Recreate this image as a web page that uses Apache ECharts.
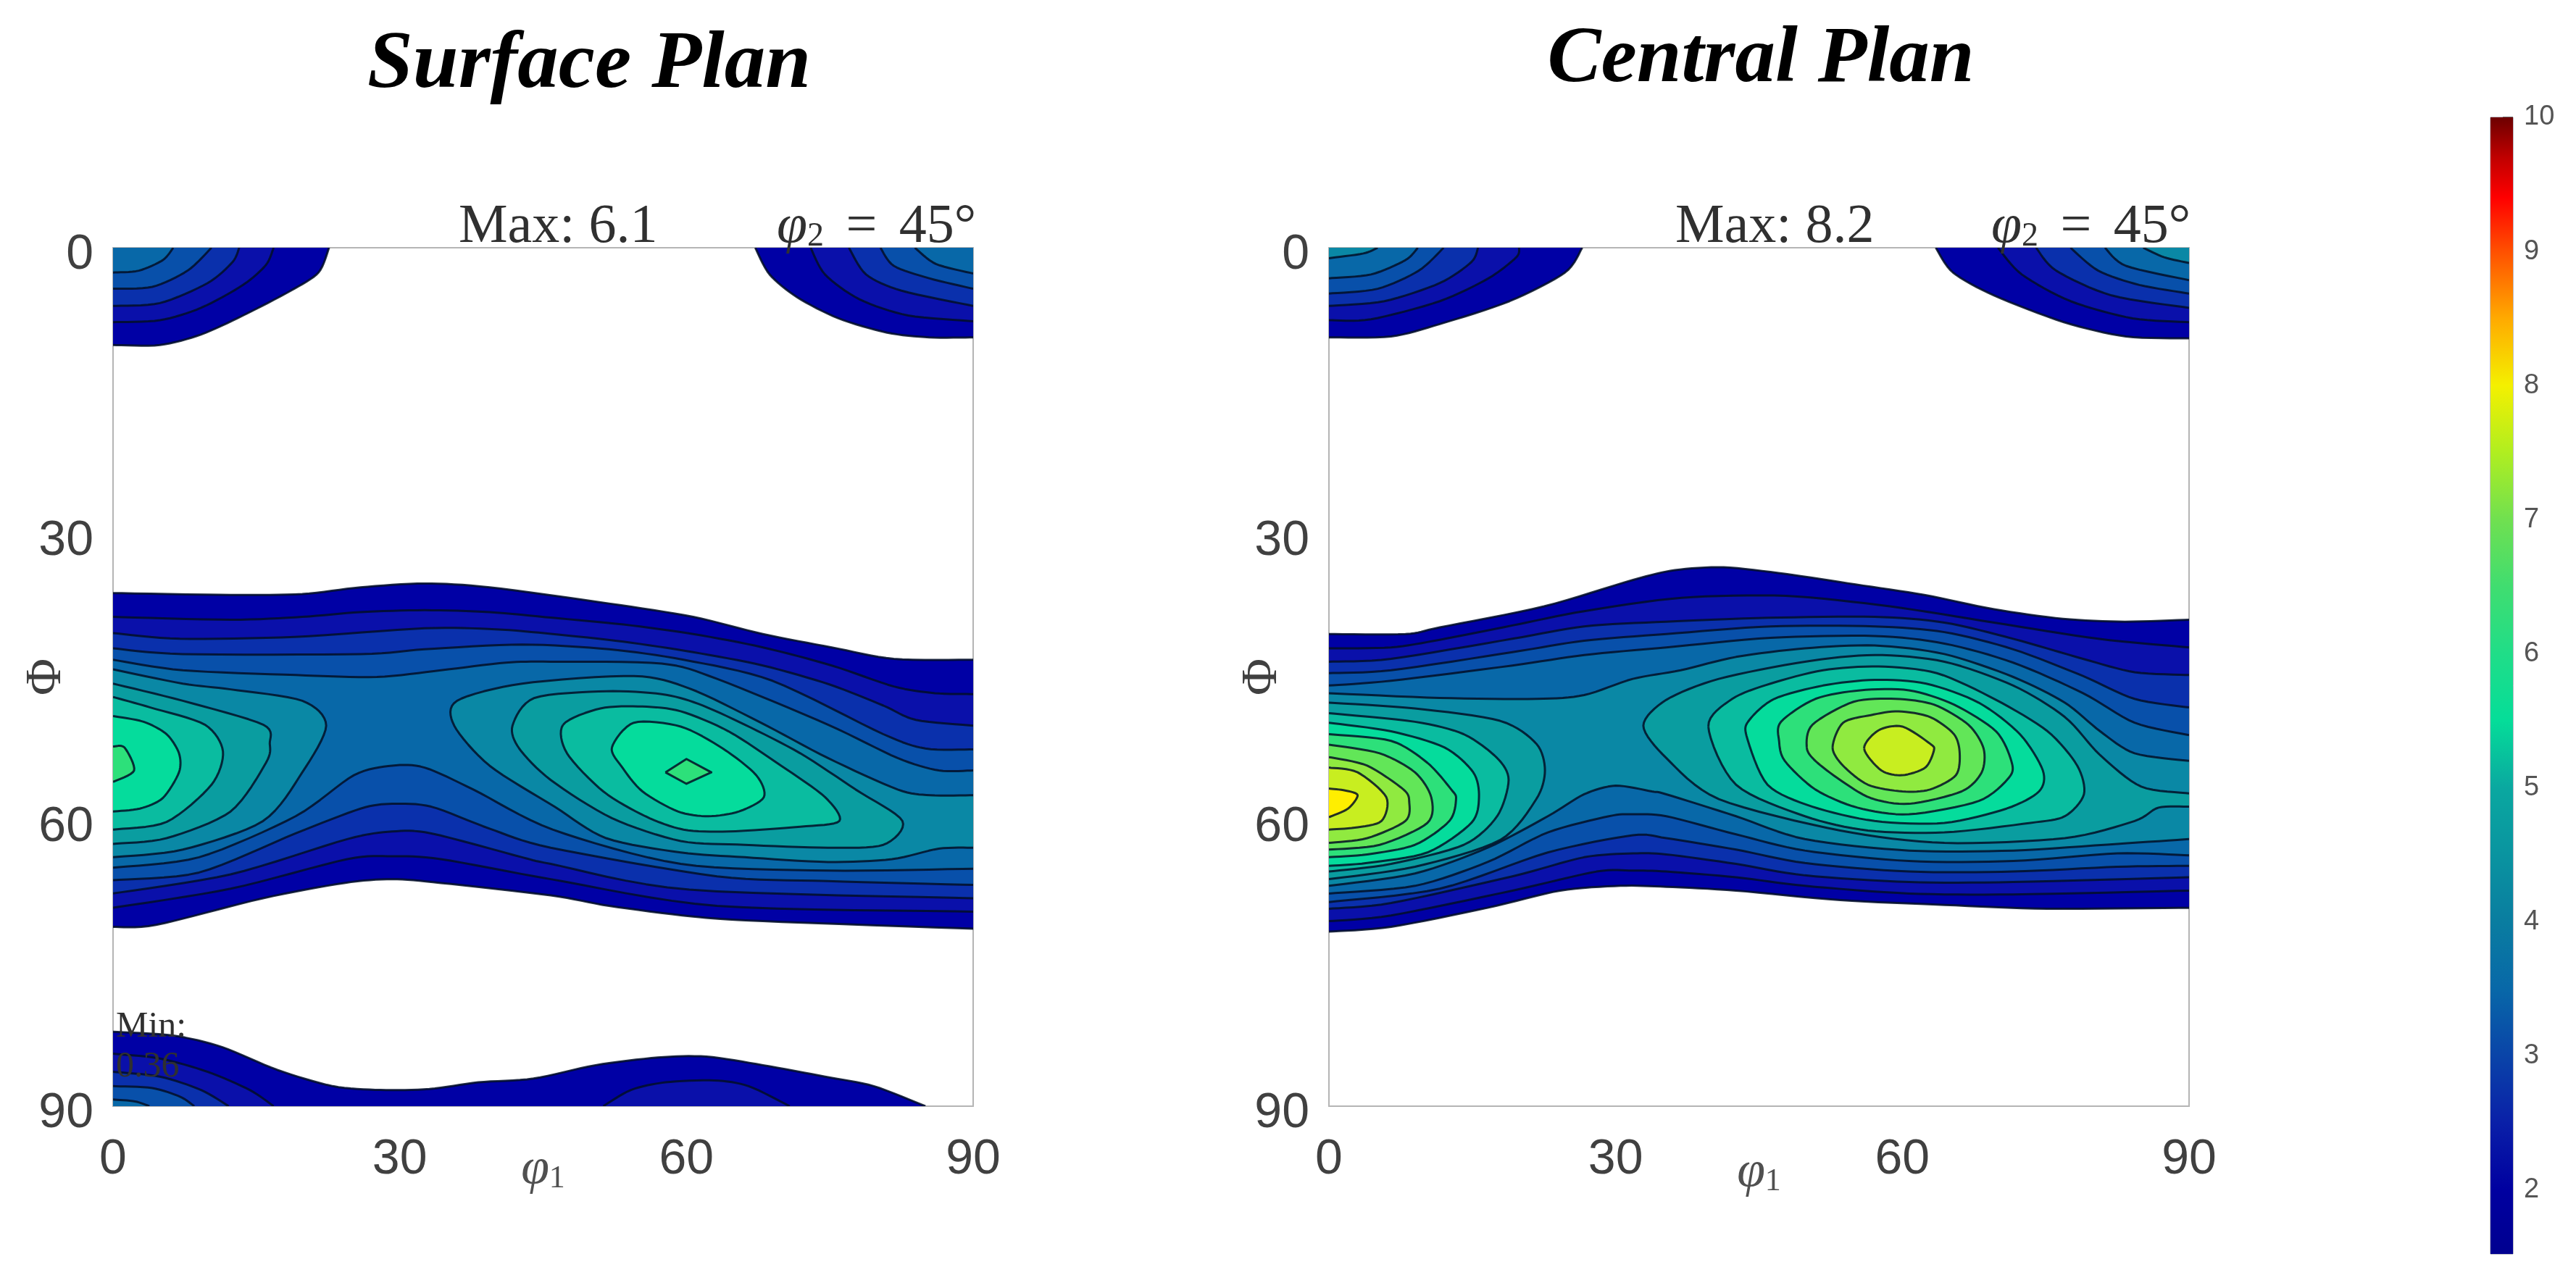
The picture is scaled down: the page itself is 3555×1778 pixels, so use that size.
<!DOCTYPE html>
<html><head><meta charset="utf-8">
<style>html,body{margin:0;padding:0;background:#fff}#c{width:3555px;height:1778px}</style>
<script src="https://cdn.jsdelivr.net/npm/echarts@6/dist/echarts.min.js"></script>
</head><body><div id="c"></div>
<script>
// Contour levels and the fill used above each level
const levels = [1.5,2,2.5,3,3.5,4,4.5,5,5.5,6,6.5,7,7.5,8];
const levelColors = ['#0000a5','#0a10aa','#0a30ac','#0850aa','#0868a8','#0a88a5','#0a9da0','#0abca0','#05dc9c','#2de07a','#62e658','#90ea40','#c8ee20','#ffee00'];
const axisTicks = [0,30,60,90];
const colorbarTicks = [2,3,4,5,6,7,8,9,10];
const colorbarValues = [1.52,2,2.5,3,3.5,4,4.5,5,5.5,6,6.5,7,7.5,8,8.5,9,9.4,9.7,10];
const colorbarColors = ['#000090','#0000a0','#0a20a8','#0a44a8','#0868a8','#0a7da0','#0a94a0','#0aa8a0','#05dd99','#20dd88','#40dd70','#70e050','#b0ee20','#f4f000','#ffaa00','#ff5000','#ff0000','#c00000','#6d0000'];

// SURFACE PLAN: contours as [phi1, Phi]
const surfaceBelts = [
 {level:1.5,chains:[
  [[0,36.2],[12.3,36.4],[19.8,36.3],[25.9,35.6],[32.6,35.2],[39.4,35.6],[51.9,37.3],[60.7,38.7],[68,40.5],[75.2,41.9],[81.7,43.1],[90,43.2]],
  [[90,71.4],[68,70.6],[60.5,70.1],[51.9,69],[45.8,67.9],[34.3,66.6],[29.2,66.2],[24.2,66.6],[15.7,68.2],[4.5,71],[0,71.2]]]},
 {level:2,chains:[
  [[0,38.7],[12.3,39],[19.8,38.7],[25.9,38.2],[32.6,38],[39.4,38.2],[46,38.8],[53.4,39.5],[60.7,40.5],[68,41.9],[75.2,43.8],[81.7,46],[86,46.7],[90,46.8]],
  [[90,69.6],[63.2,69],[45.8,66.2],[34.3,64.1],[29.2,63.8],[24.5,64.1],[12.3,67.2],[0,69.2]]]},
 {level:2.5,chains:[
  [[0,40.4],[7,41],[19,40.8],[32.6,39.9],[40,40],[46,40.5],[53.4,41.3],[60.7,42.4],[68,43.8],[75,45.8],[80.6,48],[84,49.5],[90,50.1]],
  [[90,68.2],[60.3,67.3],[45.8,64.6],[42.8,63.9],[33.3,61.4],[29.2,61.2],[24.5,62],[12.3,65.7],[0,67.7]]]},
 {level:3,chains:[
  [[0,42],[7.3,42.6],[25.9,42.6],[32.6,42.1],[42.8,41.6],[51.9,42.1],[59.7,43.2],[69,45.4],[80.6,51],[85,52.5],[90,52.6]],
  [[90,66.8],[74.8,66.4],[63.2,65.9],[45.8,62.9],[39.4,60.9],[33.3,58.6],[29.2,58.3],[25.9,58.8],[19.1,61.4],[9,65.5],[0,66.3]]]},
 {level:3.5,chains:[
  [[0,43.2],[7.3,44.3],[19.1,44.8],[27.6,45],[34.3,44.3],[41.1,43.5],[45.8,43.4],[57.4,43.6],[63.2,45.2],[74.8,50],[82.1,53.5],[86.4,54.8],[90,54.8]],
  [[90,65.1],[74.8,65.3],[59.4,64.6],[46,61],[37.7,56.8],[32.6,54.5],[29.2,54.3],[25.2,55.3],[19.1,59.6],[9,63.9],[0,65]]]}
];
const surfaceLeftLobes = [
 {level:4,chains:[[[0,44.2],[7.3,45.7],[12.3,46.3],[19.8,47.5],[22.3,50.1],[19.8,55],[15.7,60.1],[7.3,63.1],[0,63.9]]]},
 {level:4.5,chains:[[[0,45.7],[7.3,47.5],[15.7,50],[16.4,52],[16,54],[12.3,59.1],[5.6,61.9],[0,62.5]]]},
 {level:5,chains:[[[0,47.1],[3.9,48.2],[9.6,50],[11.5,52.8],[10.3,56.3],[5.6,60.2],[0,61]]]},
 {level:5.5,chains:[[[0,49.1],[3.2,49.7],[5.6,51],[6.9,53],[6.9,55],[5.2,57.7],[2.8,58.8],[0,59.1]]]},
 {level:6,chains:[[[0,52.3],[1.2,52.4],[2.2,54.8],[0,56]]]}
];
const surfaceRightLobes = [
 {level:4,chains:[[[90,62.9],[86.4,63],[81.5,64.1],[74.8,64.4],[66.1,63.9],[59.4,63.4],[51.6,61.9],[46.2,58.6],[39.4,54.3],[35.7,50.1],[36,47.5],[42.8,45.7],[54.5,44.9],[60.3,46.2],[67.6,49.7],[74.8,53.5],[82.1,56.8],[85.5,57.4],[90,57.4]]]},
 {level:4.5,closed:true,chains:[[[41.8,50.1],[44.1,47.2],[51.6,46.5],[57.4,46.8],[61.2,47.8],[66.1,50],[71.9,53],[77.7,56.8],[82.6,60.1],[80.6,62.6],[74.8,62.9],[66.1,62.6],[59.4,62.2],[52.2,59.8],[45.8,55.8],[42.5,52.5]]]},
 {level:5,closed:true,chains:[[[47.1,50],[51,48.3],[55.4,48.1],[59.4,48.6],[64.4,50.7],[69.9,54.3],[74.5,57.6],[76,60.1],[71.9,60.7],[64.4,61.2],[59.7,61],[55.7,59.6],[51.3,57],[47.5,53]]]},
 {level:5.5,closed:true,chains:[[[52.2,52.4],[54.5,49.8],[59.4,50.2],[63.8,52.5],[67.3,55.3],[68.1,57.6],[65.5,59.1],[62.3,59.6],[59.1,59.1],[55.4,57],[53.3,54.5]]]},
 {level:6,closed:true,sharp:true,chains:[[[57.8,55],[60,53.6],[62.6,55],[60,56.2]]]}
];
const surfaceTopLobes = [
 {level:1.5,chains:[[[0,10.2],[4.9,10.2],[9.2,9.1],[13.6,7.1],[18.6,4.5],[21.5,2.6],[22.6,0]],[[0,0]]]},
 {level:2,chains:[[[0,7.8],[4.9,7.6],[9.2,6.3],[13.6,3.9],[16,1.8],[16.8,0]],[[0,0]]]},
 {level:2.5,chains:[[[0,6.1],[4.9,5.8],[9.9,3.7],[12.5,1.5],[13.2,0]],[[0,0]]]},
 {level:3,chains:[[[0,4.3],[4.1,4.1],[7.8,2.4],[10.3,0]],[[0,0]]]},
 {level:3.5,chains:[[[0,2.6],[2.7,2.4],[5.2,1.3],[6.3,0]],[[0,0]]]},
 {level:1.5,chains:[[[67.2,0],[68.7,2.8],[71.6,5.2],[75.9,7.4],[81,8.9],[85.4,9.4],[90,9.4]],[[90,0]]]},
 {level:2,chains:[[[73,0],[74.5,2.8],[78.1,5.4],[83.2,7.1],[90,7.7]],[[90,0]]]},
 {level:2.5,chains:[[[77,0],[78.8,2.8],[82.5,4.5],[90,6.1]],[[90,0]]]},
 {level:3,chains:[[[80.3,0],[81.7,1.9],[85.4,3.2],[90,4.3]],[[90,0]]]},
 {level:3.5,chains:[[[83.9,0],[86.1,1.7],[90,2.7]],[[90,0]]]}
];
const surfaceBottomLobes = [
 {level:1.5,chains:[[[0,82.2],[6.3,82.6],[11.4,83.8],[17.2,86.2],[23,87.9],[28,88.3],[33.1,88.2],[38.2,87.5],[44,87.1],[50.5,85.7],[57,84.9],[62.1,84.8],[68,85.7],[74.5,86.9],[79.6,87.9],[85,90]],[[0,90]]]},
 {level:2,chains:[[[0,84.5],[4.9,85],[9.9,86.4],[14.3,88.3],[16.8,90]],[[0,90]]]},
 {level:2.5,chains:[[[0,86.4],[4.9,86.9],[9.2,88.3],[12.1,90]],[[0,90]]]},
 {level:3,chains:[[[0,87.9],[4.1,88.1],[7,89],[8.5,90]],[[0,90]]]},
 {level:3.5,chains:[[[0,89.3],[2.3,89.5],[3.8,90]],[[0,90]]]},
 {level:2,chains:[[[51.3,90],[54.2,88.3],[57.8,87.5],[62.9,87.3],[66.5,87.9],[70.8,90]]]}
];

// CENTRAL PLAN: contours as [phi1, Phi]
const centralBelts = [
 {level:1.5,chains:[
  [[0,40.5],[8,40.5],[11.6,39.8],[22.5,37.6],[31.9,34.8],[36.2,33.8],[41.3,33.5],[47.8,34.2],[55.1,35.3],[62.3,36.4],[69.6,37.9],[76.8,38.9],[83.3,39.2],[90,39]],
  [[90,69.2],[75.2,69.3],[64.4,68.9],[53.5,68.4],[42.6,67.4],[35.3,67],[30.5,66.9],[24.2,67.4],[16.6,69.2],[6.5,71.2],[0,71.7]]]},
 {level:2,chains:[
  [[0,42],[6.5,41.9],[11.6,41.1],[19.2,39.6],[26.7,38.1],[36.9,36.7],[47.8,36.5],[58.7,37.6],[69.6,39.3],[80.5,41],[90,41.9]],
  [[90,67.4],[71.6,67.8],[60.7,67.7],[49.8,66.9],[42.6,66],[35.3,65.4],[31.8,65.3],[28,65.4],[19.2,67.4],[6.5,70],[0,70.6]]]},
 {level:2.5,chains:[
  [[0,43.4],[6.5,43.1],[19.2,41],[26.7,39.7],[35.3,39.2],[46,38.8],[57.1,38.7],[64.4,39.3],[71.6,41],[78.9,43.1],[84.3,44.5],[90,44.8]],
  [[90,66],[71.6,66.5],[60.7,66.5],[49.8,65.8],[42.6,64.6],[35.3,63.6],[31.8,63.5],[26.7,63.9],[19.2,65.9],[6.5,68.7],[0,69.3]]]},
 {level:3,chains:[
  [[0,44.6],[6.5,44.3],[19.2,42.4],[26.7,41.2],[35.3,40.5],[46.2,39.7],[57.1,39.7],[64.4,40.3],[71.6,42.1],[78.9,44.9],[84.3,47.3],[90,48.2]],
  [[90,64.8],[82.5,64.9],[71.6,65.4],[60.7,65.4],[49.8,64.5],[42.6,63.1],[35.3,61.9],[31.8,61.6],[22.9,63.4],[11.6,67.2],[0,68.6]]]},
 {level:3.5,chains:[
  [[0,45.9],[6.5,45.4],[19.2,43.8],[26.7,42.7],[35.3,41.9],[46.2,40.9],[57.1,40.7],[64.4,41.5],[71.6,43.5],[78.9,46.7],[84.3,49.8],[90,51.1]],
  [[90,63.7],[82.5,63.5],[71.6,64.3],[60.7,64.3],[49.8,63.2],[42.6,61.5],[35.3,59.6],[31.8,59.4],[29.3,59.6],[22.9,61.3],[16.6,64.4],[9,66.9],[0,67.7]]]},
 {level:4,chains:[
  [[0,46.7],[11.6,47.2],[21.7,47.3],[26.7,46.9],[31.8,45.2],[36.8,44.3],[42.6,42.9],[49.8,42],[57.1,41.7],[64.4,42.6],[71.6,45],[77,47.7],[80.7,50.7],[84.3,53],[90,53.8]],
  [[90,62],[82.5,62.5],[71.6,63.2],[60.7,63.2],[49.8,62],[42.6,59.6],[35.3,57.3],[33.8,57],[30,56.4],[26.7,57.3],[22.9,59.6],[16.6,62.9],[9,65.6],[0,66.9]]]}
];
const centralLeftLobes = [
 {level:4.5,chains:[[[0,47.7],[9,48.3],[17.9,49.6],[21.7,52],[22.6,54.8],[21.7,57.8],[17.9,62.1],[9,64.9],[0,66.2]]]},
 {level:5,chains:[[[0,48.8],[9,49.7],[14.1,51],[17.6,53.5],[18.8,55.8],[17.6,59.6],[14.1,62.6],[6.5,64.6],[0,65.4]]]},
 {level:5.5,chains:[[[0,49.8],[6.5,50.7],[12.1,52.4],[15.1,55],[15.7,57.6],[14.9,60.3],[10.3,63.4],[4,64.5],[0,64.8]]]},
 {level:6,chains:[[[0,51],[6.5,51.7],[10.3,54],[12.8,56.8],[13.3,57.8],[12.6,60.1],[9,62.6],[4,63.6],[0,63.9]]]},
 {level:6.5,chains:[[[0,52.1],[5.3,53],[9,55],[10.7,57.6],[10.3,60.3],[5.3,62.6],[0,63.1]]]},
 {level:7,chains:[[[0,53.4],[4,54.3],[7.8,56.8],[8.4,58.1],[8,60.1],[4,61.9],[0,62.4]]]},
 {level:7.5,chains:[[[0,54.5],[3,55],[6,57.6],[5.5,60.1],[2.7,60.8],[0,61]]]},
 {level:8,chains:[[[0,56.7],[1.7,56.9],[3,57.4],[2,58.8],[0,59.7]]]}
];
const centralRightLobes = [
 {level:4.5,chains:[[[90,58.6],[86.8,58.7],[84.3,60.1],[77,61.9],[64.4,62.4],[53.5,61.1],[40.8,57.8],[35.3,53.5],[32.9,50.1],[35.3,47.4],[40.8,45.2],[49.8,43.4],[57.1,42.7],[64.4,43.4],[71.6,45.9],[77,49.2],[80.7,53.2],[85,56.5],[90,57.2]]]},
 {level:5,closed:true,chains:[[[39.7,50.2],[42.2,47.3],[46.2,45.7],[51.7,44.3],[57.5,43.9],[63.6,44.6],[69.8,47.4],[75.2,50.7],[78.3,54.3],[79,57.3],[77,59.6],[73.4,60.3],[64.4,61.3],[56.4,61.1],[49.8,59.6],[42.6,56.3]]]},
 {level:5.5,closed:true,chains:[[[43.7,51.2],[44,49.5],[46.6,47.3],[51.7,45.9],[57.1,45.3],[62.5,45.7],[68,47.7],[72.3,51],[74.7,54.8],[74.3,57],[70.9,58.8],[64.4,60.3],[57.1,60.1],[50.6,58.6],[45.9,56.3]]]},
 {level:6,closed:true,chains:[[[47.1,51.7],[47.3,49.7],[50.9,47.3],[55.6,46.4],[60.7,46.4],[65.4,47.9],[69.8,50.7],[71.4,53.8],[71.2,55.5],[68,58],[60.7,59.4],[55.3,58.7],[50.9,56.8],[47.7,53.8]]]},
 {level:6.5,closed:true,chains:[[[50,52.4],[50.6,50],[54.9,47.6],[59.3,47.3],[63.3,47.9],[66.9,50],[68.5,52.5],[68.3,55],[66.2,57],[60.7,58.3],[56.7,57.7],[53.5,55.8],[50.9,53.8]]]},
 {level:7,closed:true,chains:[[[52.7,52.4],[53.8,49.8],[56.7,49],[59.6,48.6],[62.9,49.2],[65.4,51],[66,53],[65.6,55.3],[62.9,56.8],[60,57],[56.4,56.3],[53.8,54.3]]]},
 {level:7.5,closed:true,chains:[[[56,52.5],[57.5,50.6],[60,50.2],[62.9,52],[63.3,52.7],[62.4,54.5],[60,55.3],[57.8,54.8]]]}
];
const centralTopLobes = [
 {level:1.5,chains:[[[0,9.4],[6.5,9.3],[11.6,8],[18.9,5.6],[24.7,2.6],[26.5,0]],[[0,0]]]},
 {level:2,chains:[[[0,7.6],[4.4,7.5],[11.6,5.6],[16.7,3.2],[19.6,1],[19.9,0]],[[0,0]]]},
 {level:2.5,chains:[[[0,6.1],[5.8,5.6],[11.6,3.7],[14.9,1.5],[15.6,0]],[[0,0]]]},
 {level:3,chains:[[[0,4.8],[5.1,4.3],[9.4,2.4],[12,0]],[[0,0]]]},
 {level:3.5,chains:[[[0,3.2],[4.4,2.8],[8,1.3],[9.3,0]],[[0,0]]]},
 {level:4,chains:[[[0,1.1],[3.6,0.6],[5.1,0]],[[0,0]]]},
 {level:1.5,chains:[[[63.5,0],[65.3,2.6],[69.6,5],[76.9,7.8],[83.4,9.3],[90,9.5]],[[90,0]]]},
 {level:2,chains:[[[70,0],[72.5,2.8],[77.6,5.6],[84.1,7.4],[90,7.8]],[[90,0]]]},
 {level:2.5,chains:[[[74,0],[76.1,2.4],[81.9,5],[90,6.3]],[[90,0]]]},
 {level:3,chains:[[[77.6,0],[80.5,2.4],[84.8,3.9],[90,4.8]],[[90,0]]]},
 {level:3.5,chains:[[[81.2,0],[83.4,1.9],[90,3.4]],[[90,0]]]},
 {level:4,chains:[[[85.2,0],[87.4,1],[90,1.6]],[[90,0]]]}
];

const surfaceRegions = [...surfaceBelts,...surfaceLeftLobes,...surfaceRightLobes,...surfaceTopLobes,...surfaceBottomLobes].sort((a,b)=>a.level-b.level);
const centralRegions = [...centralBelts,...centralLeftLobes,...centralRightLobes,...centralTopLobes].sort((a,b)=>a.level-b.level);

const SANS = '"Liberation Sans", Arial, sans-serif';
const SERIF = '"Liberation Serif", "Times New Roman", serif';
const TICKGREY = '#404040';

// Rounds a traced chain on screen (drawing only: the read points are unchanged)
function roundChain(pts, closed, sharp){
  if (sharp || pts.length < 3) return closed ? pts.concat([pts[0]]) : pts;
  const n = pts.length, out = [], k = 0.42, seg = 8;
  const at = i => closed ? pts[(i+n)%n] : pts[Math.max(0,Math.min(n-1,i))];
  const last = closed ? n : n-1;
  for (let i=0;i<last;i++){
    const p0=at(i-1),p1=at(i),p2=at(i+1),p3=at(i+2);
    const m1=[(p2[0]-p0[0])*k,(p2[1]-p0[1])*k], m2=[(p3[0]-p1[0])*k,(p3[1]-p1[1])*k];
    for (let s=0;s<seg;s++){
      const t=s/seg,t2=t*t,t3=t2*t;
      const a=2*t3-3*t2+1,b=t3-2*t2+t,c=-2*t3+3*t2,d=t3-t2;
      out.push([a*p1[0]+b*m1[0]+c*p2[0]+d*m2[0], a*p1[1]+b*m1[1]+c*p2[1]+d*m2[1]]);
    }
  }
  out.push(closed?out[0]:pts[n-1]);
  return out;
}

function contourSeries(regions, idx){
  return {
    type:'custom', coordinateSystem:'cartesian2d', xAxisIndex:idx, yAxisIndex:idx, clip:true, silent:true,
    data: regions.map((r,i)=>[r.chains[0][0][0], r.chains[0][0][1], i]),
    renderItem(params, api){
      const r = regions[api.value(2)];
      const color = levelColors[levels.indexOf(r.level)];
      const drawn = r.chains.map(ch => roundChain(ch.map(p=>api.coord(p)), !!r.closed, !!r.sharp));
      const cs = params.coordSys;
      const fillPts = [].concat(...drawn);
      const children = [{type:'polygon', shape:{points:fillPts}, style:{fill:color, stroke:color, lineWidth:0.5}}];
      r.chains.forEach((ch,i)=>{
        if (ch.length>2) children.push({type:'polyline', shape:{points:drawn[i]}, style:{fill:null, stroke:'rgba(2,14,38,0.85)', lineWidth:3, lineJoin:'round'}});
      });
      return {type:'group', children,
        clipPath:{type:'rect', shape:{x:cs.x,y:cs.y,width:cs.width,height:cs.height}}};
    }
  };
}

function plotX(gridIndex,nameGap){
  return {gridIndex, type:'value', min:0, max:90, interval:30, position:'bottom',
    axisLine:{show:false}, axisTick:{show:false}, splitLine:{show:false},
    axisLabel:{fontFamily:SANS, fontSize:68, color:TICKGREY, margin:40},
    name:'{a|φ}{b|1}', nameLocation:'middle', nameGap, nameMoveOverlap:false,
    nameTextStyle:{rich:{a:{fontFamily:SERIF,fontStyle:'italic',fontSize:70,color:'#505050'},b:{fontFamily:SERIF,fontSize:44,color:'#505050',padding:[24,0,0,0]}}}};
}
function plotY(gridIndex){
  return {gridIndex, type:'value', min:0, max:90, interval:30, inverse:true,
    axisLine:{show:false}, axisTick:{show:false}, splitLine:{show:false},
    axisLabel:{margin:27, formatter:'{v|{value}}',
      rich:{v:{fontFamily:SANS, fontSize:68, color:TICKGREY, padding:[20,0,0,0]}}},
    name:'Φ', nameLocation:'middle', nameGap:56, nameRotate:90, nameMoveOverlap:false,
    nameTextStyle:{fontFamily:SERIF, fontSize:70, color:'#404040'}};
}
const phiRich = {a:{fontFamily:SERIF,fontStyle:'italic',fontSize:76,color:'#303030'},
  b:{fontFamily:SERIF,fontSize:46,color:'#303030',padding:[26,0,0,0]},
  c:{fontFamily:SERIF,fontSize:76,color:'#303030'}};
function note(x,y,text,size){
  return {type:'text', z:50, silent:true, style:{x,y,text,fill:'#303030',
    font:size+'px '+SERIF, verticalAlign:'bottom', align:'left', rich:phiRich}};
}

const chart = echarts.init(document.getElementById('c'),null,{renderer:'canvas'});
chart.setOption({
  backgroundColor:'#ffffff', animation:false,
  title:[
    {text:'Surface Plan', left:808, top:29, textAlign:'center', textStyle:{fontFamily:SERIF,fontStyle:'italic',fontWeight:'bold',fontSize:113,color:'#000'}},
    {text:'Central Plan', left:2425, top:23, textAlign:'center', textStyle:{fontFamily:SERIF,fontStyle:'italic',fontWeight:'bold',fontSize:111,color:'#000'}}
  ],
  grid:[
    {left:156, top:342, width:1187, height:1185, show:true, borderColor:'#b5b5b5', borderWidth:2, backgroundColor:'#fff', outerBoundsMode:'none'},
    {left:1834, top:342, width:1187, height:1185, show:true, borderColor:'#b5b5b5', borderWidth:2, backgroundColor:'#fff', outerBoundsMode:'none'},
    {left:3437, top:162, width:31, height:1569, show:true, borderColor:'#808090', borderWidth:1, outerBoundsMode:'none'}
  ],
  xAxis:[plotX(0,53), plotX(1,57),
    {gridIndex:2,type:'category',data:['bar'],show:false}],
  yAxis:[plotY(0), plotY(1),
    {gridIndex:2,type:'value',min:1.52,max:10,position:'right',
     axisLine:{show:false}, splitLine:{show:false},
     axisTick:{show:true,inside:true,length:14,lineStyle:{color:'rgba(40,40,40,0.55)',width:2},customValues:colorbarTicks},
     axisLabel:{fontFamily:SANS,fontSize:38,color:'#555',margin:15,customValues:colorbarTicks}}],
  series:[
    contourSeries(surfaceRegions,0),
    contourSeries(centralRegions,1),
    {type:'custom',coordinateSystem:'cartesian2d',xAxisIndex:2,yAxisIndex:2,silent:true,
     data:[[0,colorbarValues[0],colorbarValues[colorbarValues.length-1]]],
     encode:{x:0,y:[1,2]},
     renderItem(params,api){
       const cs=params.coordSys, lo=api.value(1), hi=api.value(2);
       const a=api.coord([0,lo]), b=api.coord([0,hi]);
       const stops=colorbarValues.map((v,i)=>({offset:(hi-v)/(hi-lo),color:colorbarColors[i]})).reverse();
       return {type:'rect',shape:{x:cs.x,y:b[1],width:cs.width,height:a[1]-b[1]},
         style:{fill:new echarts.graphic.LinearGradient(0,0,0,1,stops)}};
     }}
  ],
  graphic:[
    note(633,352,'{c|Max: 6.1}',76),
    note(2312,352,'{c|Max: 8.2}',76),
    note(1072,352,'{a|φ}{b|2}{c|\u2009\u2009=\u2009\u200945°}',76),
    note(2748,352,'{a|φ}{b|2}{c|\u2009\u2009=\u2009\u200945°}',76),
    note(160,1443,'Min:',50),
    note(160,1498,'0.36',50)
  ]
});
</script></body></html>
